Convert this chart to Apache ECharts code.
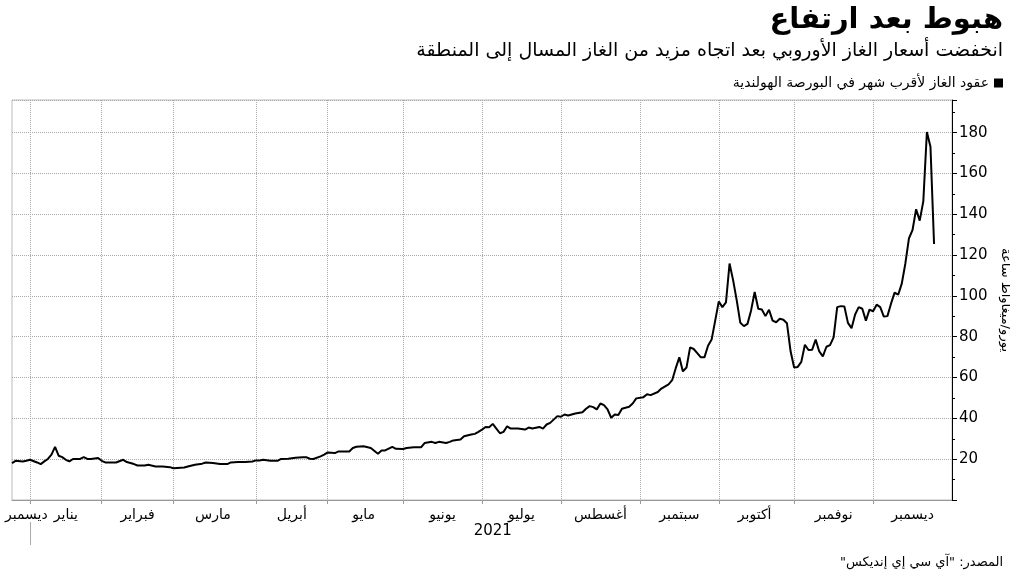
<!DOCTYPE html>
<html>
<head>
<meta charset="utf-8">
<title>هبوط بعد ارتفاع</title>
<script src="https://cdn.jsdelivr.net/npm/echarts@6/dist/echarts.min.js"></script>
<style>
  html, body { margin: 0; padding: 0; background: #fff; }
  #main { width: 1010px; height: 574px; direction: rtl; }
</style>
</head>
<body>
<div id="main"></div>
<script>
// أسماء الأشهر
const monthNames = ['يناير', 'فبراير', 'مارس', 'أبريل', 'مايو', 'يونيو', 'يوليو', 'أغسطس', 'سبتمبر', 'أكتوبر', 'نوفمبر', 'ديسمبر'];
// أيام التداول: من 24 ديسمبر 2020 حتى 31 ديسمبر 2021 بدون العطل
const firstDay = '2020-12-24';
const lastDay = '2021-12-31';
const holidays = ['2020-12-25', '2021-01-01', '2021-04-02', '2021-04-05'];
const yTicks = [0, 196, 20];   // min, max, interval

// سعر عقود الغاز لأقرب شهر (يورو/ميغاواط ساعة) - مقروءة من الرسم
const prices = [
  ['2020-12-24', 18.1], ['2020-12-28', 19.2], ['2020-12-30', 18.9], ['2020-12-31', 19.2],
  ['2021-01-04', 19.7], ['2021-01-06', 18.4], ['2021-01-07', 17.6], ['2021-01-08', 18.9], ['2021-01-11', 20.1],
  ['2021-01-12', 22.2], ['2021-01-13', 26.0], ['2021-01-14', 21.7], ['2021-01-15', 21.0], ['2021-01-18', 19.7],
  ['2021-01-19', 18.9], ['2021-01-20', 20.1], ['2021-01-22', 20.1], ['2021-01-25', 21.0], ['2021-01-26', 20.1],
  ['2021-01-27', 20.1], ['2021-01-29', 20.6],
  ['2021-02-01', 19.2], ['2021-02-02', 18.4], ['2021-02-03', 18.4], ['2021-02-05', 18.4], ['2021-02-09', 19.7],
  ['2021-02-10', 18.6], ['2021-02-12', 17.6], ['2021-02-15', 16.9], ['2021-02-17', 16.9], ['2021-02-18', 17.3],
  ['2021-02-22', 16.4], ['2021-02-24', 16.4], ['2021-02-26', 16.1],
  ['2021-03-01', 15.6], ['2021-03-04', 15.9], ['2021-03-05', 16.4], ['2021-03-09', 17.3], ['2021-03-11', 17.8],
  ['2021-03-12', 18.4], ['2021-03-16', 18.1], ['2021-03-18', 17.6], ['2021-03-22', 17.6], ['2021-03-23', 18.4],
  ['2021-03-25', 18.6], ['2021-03-29', 18.6], ['2021-03-31', 18.9],
  ['2021-04-01', 19.4], ['2021-04-06', 19.4], ['2021-04-07', 19.7], ['2021-04-09', 19.2], ['2021-04-13', 19.2],
  ['2021-04-14', 20.1], ['2021-04-16', 20.2], ['2021-04-20', 20.7], ['2021-04-22', 20.9], ['2021-04-23', 21.0],
  ['2021-04-26', 20.2], ['2021-04-27', 20.1], ['2021-04-29', 21.4], ['2021-04-30', 22.2],
  ['2021-05-03', 23.3], ['2021-05-05', 23.0], ['2021-05-06', 23.8], ['2021-05-11', 23.8], ['2021-05-12', 25.5],
  ['2021-05-13', 26.1], ['2021-05-17', 26.3], ['2021-05-19', 25.5], ['2021-05-21', 22.7], ['2021-05-24', 24.2],
  ['2021-05-25', 24.3], ['2021-05-27', 26.0], ['2021-05-28', 25.1],
  ['2021-06-01', 25.0], ['2021-06-02', 25.5], ['2021-06-04', 25.8], ['2021-06-08', 25.8], ['2021-06-09', 27.9],
  ['2021-06-11', 28.5], ['2021-06-14', 27.9], ['2021-06-15', 28.5], ['2021-06-17', 27.9], ['2021-06-18', 28.5],
  ['2021-06-21', 29.2], ['2021-06-23', 29.6], ['2021-06-24', 31.2], ['2021-06-28', 32.1], ['2021-06-29', 32.4],
  ['2021-06-30', 33.4],
  ['2021-07-01', 34.5], ['2021-07-02', 35.8], ['2021-07-05', 35.7], ['2021-07-06', 37.3], ['2021-07-07', 35.0],
  ['2021-07-08', 32.7], ['2021-07-09', 33.4], ['2021-07-12', 36.1], ['2021-07-13', 35.0], ['2021-07-15', 35.0],
  ['2021-07-19', 34.5], ['2021-07-20', 35.5], ['2021-07-21', 35.0], ['2021-07-23', 35.8], ['2021-07-26', 35.0],
  ['2021-07-27', 37.0], ['2021-07-28', 37.8], ['2021-07-30', 41.1],
  ['2021-08-02', 40.8], ['2021-08-03', 41.9], ['2021-08-04', 41.4], ['2021-08-06', 42.4], ['2021-08-10', 43.0],
  ['2021-08-11', 44.7], ['2021-08-12', 46.0], ['2021-08-13', 45.5], ['2021-08-16', 44.4], ['2021-08-17', 47.3],
  ['2021-08-18', 46.5], ['2021-08-19', 44.4], ['2021-08-20', 40.3], ['2021-08-23', 41.9], ['2021-08-24', 41.6],
  ['2021-08-25', 44.7], ['2021-08-27', 45.7], ['2021-08-30', 47.3], ['2021-08-31', 49.8],
  ['2021-09-02', 50.4], ['2021-09-03', 51.8], ['2021-09-06', 51.4], ['2021-09-08', 52.9], ['2021-09-09', 54.6],
  ['2021-09-13', 56.7], ['2021-09-14', 58.7], ['2021-09-15', 64.6], ['2021-09-16', 69.9], ['2021-09-17', 63.0],
  ['2021-09-20', 64.9], ['2021-09-21', 74.8], ['2021-09-22', 74.0], ['2021-09-23', 72.0], ['2021-09-24', 69.9],
  ['2021-09-27', 69.9], ['2021-09-28', 75.6], ['2021-09-29', 78.6], ['2021-09-30', 87.9],
  ['2021-10-01', 97.3], ['2021-10-04', 94.5], ['2021-10-05', 96.8], ['2021-10-06', 115.9], ['2021-10-07', 107.6],
  ['2021-10-08', 97.8], ['2021-10-11', 86.8], ['2021-10-12', 85.2], ['2021-10-13', 86.3], ['2021-10-14', 92.9],
  ['2021-10-15', 101.9], ['2021-10-18', 93.7], ['2021-10-19', 93.3], ['2021-10-20', 90.1], ['2021-10-21', 93.2],
  ['2021-10-22', 87.9], ['2021-10-25', 87.1], ['2021-10-26', 88.8], ['2021-10-27', 88.3], ['2021-10-28', 86.6],
  ['2021-10-29', 73.0],
  ['2021-11-01', 64.9], ['2021-11-02', 65.2], ['2021-11-03', 67.7], ['2021-11-04', 76.1], ['2021-11-05', 73.5],
  ['2021-11-08', 73.6], ['2021-11-09', 78.6], ['2021-11-10', 72.8], ['2021-11-11', 70.4], ['2021-11-12', 75.1],
  ['2021-11-15', 75.9], ['2021-11-16', 79.7], ['2021-11-17', 94.5], ['2021-11-18', 95.0], ['2021-11-19', 94.8],
  ['2021-11-22', 86.8], ['2021-11-23', 84.2], ['2021-11-24', 90.9], ['2021-11-25', 94.5], ['2021-11-26', 93.7],
  ['2021-11-29', 87.9], ['2021-11-30', 93.3],
  ['2021-12-01', 92.5], ['2021-12-02', 95.7], ['2021-12-03', 94.5], ['2021-12-06', 89.9], ['2021-12-07', 90.1],
  ['2021-12-08', 96.2], ['2021-12-09', 101.6], ['2021-12-10', 100.6], ['2021-12-13', 106.0], ['2021-12-14', 115.9],
  ['2021-12-15', 128.2], ['2021-12-16', 132.3], ['2021-12-17', 142.5], ['2021-12-20', 136.9], ['2021-12-21', 146.3],
  ['2021-12-22', 180.3], ['2021-12-23', 173.1], ['2021-12-24', 125.4]
];

const FONT = "'DejaVu Sans', sans-serif";

// بناء قائمة أيام التداول
const days = [];
for (let t = Date.parse(firstDay + 'T00:00:00Z'); t <= Date.parse(lastDay + 'T00:00:00Z'); t += 86400000) {
  const d = new Date(t);
  const wd = d.getUTCDay();
  const s = d.toISOString().slice(0, 10);
  if (wd === 0 || wd === 6 || holidays.includes(s)) continue;
  days.push(s);
}
const dayIndex = {};
days.forEach((d, i) => { dayIndex[d] = i; });

// بداية كل شهر ومكان اسمه
const monthStart = new Set();
const monthLabel = {};
const spans = {};
days.forEach((d, i) => {
  const key = d.slice(0, 7);
  if (!spans[key]) spans[key] = [i, i];
  spans[key][1] = i;
  if (i > 0 && days[i - 1].slice(0, 7) !== key) monthStart.add(i);
});
Object.keys(spans).forEach(key => {
  const [a, b] = spans[key];
  monthLabel[a === 0 ? b : Math.round((a + b) / 2)] = monthNames[+key.slice(5, 7) - 1];
});
// بداية السنة ومنتصفها
const yearFirst = days.findIndex(d => d.startsWith('2021'));
const yearMid = Math.round((yearFirst + days.length - 1) / 2);

const seriesData = prices.map(([d, v]) => [dayIndex[d], v]);

const chart = echarts.init(document.getElementById('main'));
chart.setOption({
  animation: false,
  backgroundColor: '#fff',
  title: [
    { text: 'هبوط بعد ارتفاع', right: 7, top: 6, padding: 0,
      textStyle: { fontFamily: FONT, fontSize: 29, fontWeight: 'bold', color: '#000' } },
    { text: 'انخفضت أسعار الغاز الأوروبي بعد اتجاه مزيد من الغاز المسال إلى المنطقة', right: 7, top: 42, padding: 0,
      textStyle: { fontFamily: FONT, fontSize: 19, fontWeight: 'normal', color: '#000' } },
    { text: 'المصدر: "آي سي إي إنديكس"', right: 7, top: 556, padding: 0,
      textStyle: { fontFamily: FONT, fontSize: 13, fontWeight: 'normal', color: '#000' } }
  ],
  legend: {
    right: 7, top: 76, padding: 0, align: 'right', icon: 'rect', itemWidth: 9, itemHeight: 9, itemGap: 6,
    textStyle: { fontFamily: FONT, fontSize: 14, color: '#000' },
    data: ['عقود الغاز لأقرب شهر في البورصة الهولندية']
  },
  grid: { left: 12, right: 58, top: 100, bottom: 74, outerBoundsMode: 'none',
    show: true, borderColor: '#bbb', borderWidth: 1 },
  xAxis: [
    {
      type: 'category', data: days, boundaryGap: false,
      axisLine: { lineStyle: { color: '#999' } },
      axisTick: { interval: i => monthStart.has(i), length: 4, lineStyle: { color: '#999' } },
      axisLabel: { interval: i => monthLabel[i] !== undefined, formatter: (v, i) => monthLabel[i] || '',
        fontFamily: FONT, fontSize: 14, color: '#000', margin: 8 },
      splitLine: { show: true, interval: i => monthStart.has(i),
        lineStyle: { color: '#aaa', type: 'dotted' } }
    },
    {
      type: 'category', data: days, boundaryGap: false, position: 'bottom', offset: 22,
      axisLine: { show: false },
      axisTick: { interval: i => i === yearFirst, length: 23, lineStyle: { color: '#aaa' } },
      axisLabel: { interval: i => i === yearMid, formatter: v => v.slice(0, 4),
        fontFamily: FONT, fontSize: 15, color: '#000', margin: 2 },
      splitLine: { show: false }
    }
  ],
  yAxis: {
    type: 'value', position: 'right', min: yTicks[0], max: yTicks[1], interval: yTicks[2],
    name: 'يورو/ميغاواط ساعة', nameLocation: 'middle', nameRotate: -90, nameGap: 44,
    nameTextStyle: { fontFamily: FONT, fontSize: 13, color: '#000' },
    axisLine: { show: true, lineStyle: { color: '#000' } },
    axisTick: { show: true, length: 5, lineStyle: { color: '#000' } },
    minorTick: { show: true, splitNumber: 2, length: 3, lineStyle: { color: '#000' } },
    axisLabel: { showMaxLabel: false, formatter: v => (v === 0 ? '' : v),
      fontFamily: FONT, fontSize: 15, color: '#000', margin: 7 },
    splitLine: { show: true, lineStyle: { color: '#aaa', type: 'dotted' } }
  },
  series: [{
    name: 'عقود الغاز لأقرب شهر في البورصة الهولندية',
    type: 'line', xAxisIndex: 0, data: seriesData, showSymbol: false,
    lineStyle: { color: '#000', width: 2 }, itemStyle: { color: '#000' }
  }]
});
</script>
</body>
</html>
